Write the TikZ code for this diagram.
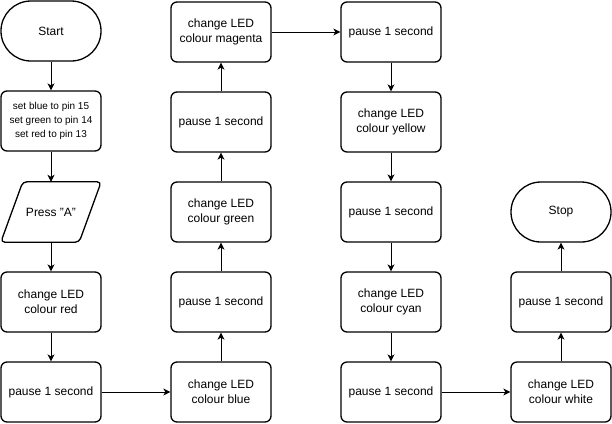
\documentclass[tikz,border=0pt]{standalone}
\usepackage{fontspec}
\setmainfont{Liberation Sans}
\usetikzlibrary{arrows.meta,shapes.geometric}
\begin{document}
\begin{tikzpicture}[x=1bp,y=-1bp,
  txt/.style={font=\fontsize{12bp}{15bp}\selectfont},
  proc/.style={draw,line width=1.3bp,rounded corners=6bp,minimum width=100bp,minimum height=60bp,align=center,txt,inner sep=0pt},
  term/.style={draw,line width=1.3bp,rounded corners=29.9bp,minimum width=100bp,minimum height=60bp,align=center,txt,inner sep=0pt},
  io/.style={minimum width=100bp,minimum height=60bp,align=center,txt,inner sep=0pt},
  ioborder/.style={draw,line width=1.3bp,rounded corners=4bp,line join=round},
  conn/.style={draw,line width=1bp,-{Stealth[length=7bp,width=7bp,inset=2bp]}}]
\useasboundingbox (0,0) rectangle (612,423);
\node[term] (start) at (51,31) {Start};
\node[proc,font=\fontsize{10bp}{14bp}\selectfont] (setup) at (51,121) {set blue to pin 15\\set green to pin 14\\set red to pin 13};
\node[io] (press) at (51,212) {Press "A"};
\draw[ioborder] ([xshift=22bp]press.north west) -- (press.north east) -- ([xshift=-22bp]press.south east) -- (press.south west) -- cycle;
\node[proc] (red) at (51,302) {change LED\\colour red};
\node[proc] (p1) at (51,392) {pause 1 second};
\node[proc] (blue) at (221,392) {change LED\\colour blue};
\node[proc] (p2) at (221,302) {pause 1 second};
\node[proc] (green) at (221,212) {change LED\\colour green};
\node[proc] (p3) at (221,122) {pause 1 second};
\node[proc] (magenta) at (221,32) {change LED\\colour magenta};
\node[proc] (p4) at (391,32) {pause 1 second};
\node[proc] (yellow) at (391,122) {change LED\\colour yellow};
\node[proc] (p5) at (391,212) {pause 1 second};
\node[proc] (cyan) at (391,302) {change LED\\colour cyan};
\node[proc] (p6) at (391,392) {pause 1 second};
\node[proc] (white) at (561,392) {change LED\\colour white};
\node[proc] (p7) at (561,302) {pause 1 second};
\node[term] (stop) at (561,212) {Stop};
\draw[conn] (start) -- (setup);
\draw[conn] (setup) -- (press);
\draw[conn] (press) -- (red);
\draw[conn] (red) -- (p1);
\draw[conn] (p1) -- (blue);
\draw[conn] (blue) -- (p2);
\draw[conn] (p2) -- (green);
\draw[conn] (green) -- (p3);
\draw[conn] (p3) -- (magenta);
\draw[conn] (magenta) -- (p4);
\draw[conn] (p4) -- (yellow);
\draw[conn] (yellow) -- (p5);
\draw[conn] (p5) -- (cyan);
\draw[conn] (cyan) -- (p6);
\draw[conn] (p6) -- (white);
\draw[conn] (white) -- (p7);
\draw[conn] (p7) -- (stop);
\end{tikzpicture}
\end{document}
